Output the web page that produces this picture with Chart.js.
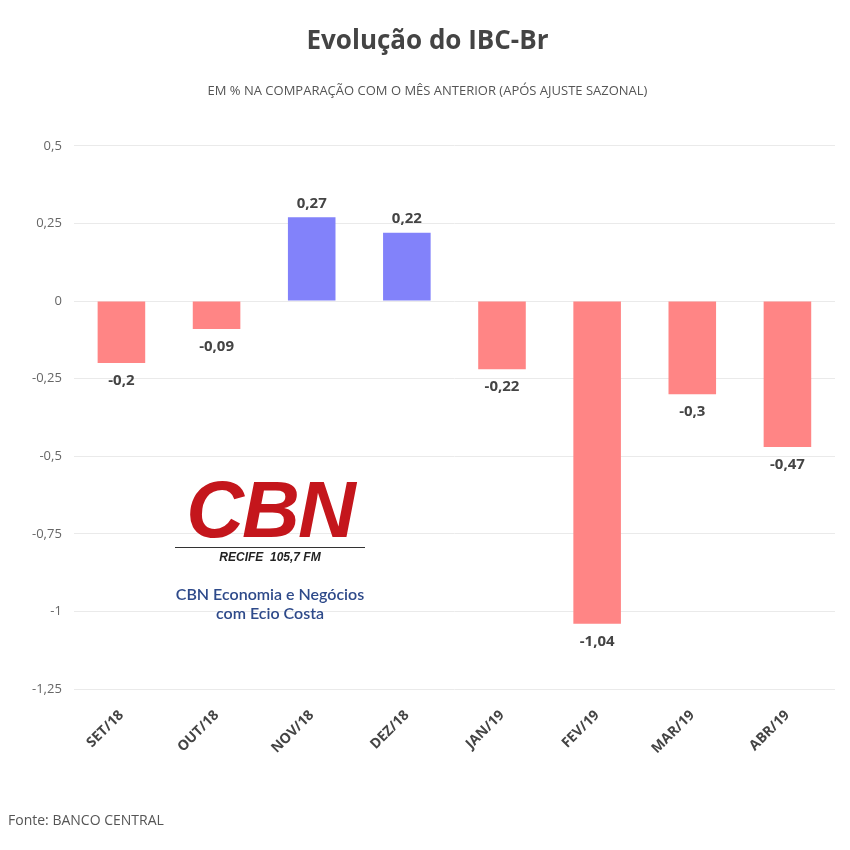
<!DOCTYPE html>
<html><head><meta charset="utf-8">
<script src="https://cdn.jsdelivr.net/npm/chart.js@4"></script>
<style>
body{margin:0;background:#fff;font-family:"Open Sans",sans-serif}
#wrap{position:relative;width:850px;height:850px}
#fonte{position:absolute;left:8px;top:810px;font-size:14px;color:#555}
#logo{position:absolute;left:165px;top:475px;width:210px;text-align:center}
#cbn{font-family:"Liberation Sans",Arial;font-weight:bold;font-style:italic;font-size:80px;color:#c4161c;line-height:70px;letter-spacing:-2px}
#recife{border-top:1.5px solid #333;margin:2px 10px 0;font-family:"Liberation Sans";font-style:italic;font-weight:bold;font-size:12px;color:#222;padding-top:2px;text-align:center}
#prog{margin-top:20px;font-family:"Lato";font-size:16px;color:#2e4a8a;line-height:19px;font-weight:600}
</style></head>
<body><div id="wrap"><canvas id="c" width="850" height="850"></canvas>
<div id="logo"><div id="cbn">CBN</div><div id="recife">RECIFE&nbsp; 105,7 FM</div><div id="prog">CBN Economia e Negócios<br>com Ecio Costa</div></div>
<div id="fonte">Fonte: BANCO CENTRAL</div></div>
<script>
const months = ['SET/18','OUT/18','NOV/18','DEZ/18','JAN/19','FEV/19','MAR/19','ABR/19'];
const values = [-0.2,-0.09,0.27,0.22,-0.22,-1.04,-0.3,-0.47];
const yTicks = [0.5,0.25,0,-0.25,-0.5,-0.75,-1,-1.25];
const fmt = v => String(v).replace('.', ',');

const labelsPlugin = {
  id: 'vals',
  afterDatasetsDraw(chart) {
    const ctx = chart.ctx;
    ctx.save();
    ctx.font = 'bold 15px "Open Sans"';
    ctx.fillStyle = '#444';
    ctx.textAlign = 'center';
    chart.getDatasetMeta(0).data.forEach((bar, i) => {
      const v = values[i];
      if (v >= 0) { ctx.textBaseline = 'bottom'; ctx.fillText(fmt(v), bar.x, bar.y - 6); }
      else { ctx.textBaseline = 'top'; ctx.fillText(fmt(v), bar.x, bar.y + 10); }
    });
    ctx.restore();
  }
};

new Chart(document.getElementById('c').getContext('2d'), {
  type: 'bar',
  data: {
    labels: months,
    datasets: [{
      data: values,
      backgroundColor: values.map(v => v >= 0 ? '#8282fa' : '#ff8585'),
      categoryPercentage: 1,
      barPercentage: 0.5
    }]
  },
  options: {
    responsive: false,
    animation: false,
    layout: { padding: { left: 20, right: 15, bottom: 83 } },
    plugins: {
      legend: { display: false },
      tooltip: { enabled: false },
      title: { display: true, text: 'Evolução do IBC-Br', color: '#444',
        font: { family: 'Open Sans', size: 26, weight: 'bold' }, padding: { top: 26, bottom: 26 } },
      subtitle: { display: true, text: 'EM % NA COMPARAÇÃO COM O MÊS ANTERIOR (APÓS AJUSTE SAZONAL)', color: '#555',
        font: { family: 'Open Sans', size: 13 }, padding: { bottom: 47 } }
    },
    scales: {
      y: {
        min: -1.25, max: 0.5,
        afterBuildTicks: s => { s.ticks = yTicks.map(v => ({ value: v })); },
        ticks: { color: '#666', font: { family: 'Open Sans', size: 13 }, callback: v => fmt(v), padding: 12 },
        grid: { color: '#eaeaea', drawTicks: false },
        border: { display: false }
      },
      x: {
        ticks: { color: '#444', font: { family: 'Open Sans', size: 14, weight: 'bold' }, maxRotation: 45, minRotation: 45, padding: 10 },
        grid: { display: false },
        border: { display: false }
      }
    }
  },
  plugins: [labelsPlugin]
});
</script></body></html>
